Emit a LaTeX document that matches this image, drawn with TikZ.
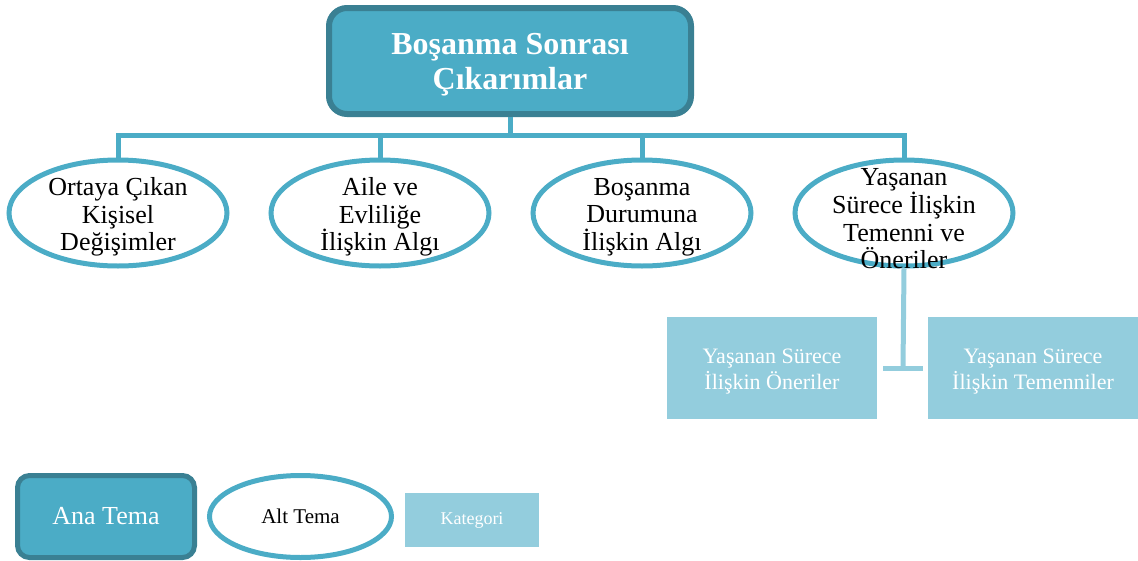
\documentclass[tikz,border=0pt]{standalone}
\usepackage{fontspec}
\setmainfont{Liberation Serif}
\usetikzlibrary{shapes.geometric}
\definecolor{mainfill}{HTML}{4BACC6}
\definecolor{mainborder}{HTML}{3A8093}
\definecolor{catfill}{HTML}{93CDDD}
\begin{document}
\begin{tikzpicture}[x=1pt,y=-1pt,
  mainbox/.style={draw=mainborder,fill=mainfill,line width=6pt,rounded corners=18pt,
    minimum width=362pt,minimum height=106pt,inner sep=0pt},
  maintext/.style={align=center,text=white,inner sep=0pt,font=\fontsize{32}{35}\selectfont\bfseries},
  subell/.style={draw=mainfill,line width=5pt,ellipse,minimum width=218pt,minimum height=106pt,inner sep=0pt},
  subtext/.style={align=center,inner sep=0pt,font=\fontsize{26}{27.6}\selectfont},
  catbox/.style={fill=catfill,minimum width=210pt,minimum height=102pt,inner sep=0pt},
  cattext/.style={align=center,inner sep=0pt,text=white,font=\fontsize{22}{26}\selectfont},
  bus/.style={draw=mainfill,line width=5pt},
  tee/.style={draw=catfill,line width=5pt}]
\useasboundingbox (0,0) rectangle (1138,560);
% main theme
\node[mainbox] (main) at (510,61) {};
\node[maintext] (mt) at (510,65) {Boşanma Sonrası\\Çıkarımlar};
% sub themes
\node[subell] (e1) at (118,213) {};
\node[subell] (e2) at (380,213) {};
\node[subell] (e3) at (642,213) {};
\node[subell] (e4) at (904,213) {};
\node[subtext] (t1) at (118,217) {Ortaya Çıkan\\Kişisel\\Değişimler};
\node[subtext] (t2) at (380,217) {Aile ve\\Evliliğe\\İlişkin Algı};
\node[subtext] (t3) at (642,217) {Boşanma\\Durumuna\\İlişkin Algı};
\node[subtext] (t4) at (904,219) {Yaşanan\\Sürece İlişkin\\Temenni ve\\Öneriler};
% connectors
\coordinate (busc) at (510,135);
\draw[bus] (main.south) -- (busc);
\draw[bus] (e1.north) |- (busc) -| (e4.north);
\draw[bus] (e2.north) -- (e2.north |- busc);
\draw[bus] (e3.north) -- (e3.north |- busc);
% categories
\node[catbox] (k1) at (772,368) {};
\node[catbox] (k2) at (1033,368) {};
\node[cattext] (kt1) at (772,372) {Yaşanan Sürece\\İlişkin Öneriler};
\node[cattext] (kt2) at (1033,372) {Yaşanan Sürece\\İlişkin Temenniler};
\coordinate (teec) at (903,368);
\coordinate (teel) at (883,368);
\coordinate (teer) at (923,368);
\draw[tee] (e4.south) -- (teec);
\draw[tee] (teel) -- (teer);
% legend
\node[draw=mainborder,fill=mainfill,line width=5pt,rounded corners=12pt,minimum width=177pt,
  minimum height=82pt,inner sep=0pt,text=white,font=\fontsize{26}{30}\selectfont] (lmain) at (106,516.5) {Ana Tema};
\node[draw=mainfill,line width=5pt,ellipse,minimum width=182pt,minimum height=82pt,inner sep=0pt,
  font=\fontsize{21}{25}\selectfont] (lsub) at (300.5,516.5) {Alt Tema};
\node[fill=catfill,minimum width=134pt,minimum height=54pt,inner sep=0pt,text=white,
  font=\fontsize{18}{22}\selectfont] (lcat) at (472,520) {Kategori};
\end{tikzpicture}
\end{document}
